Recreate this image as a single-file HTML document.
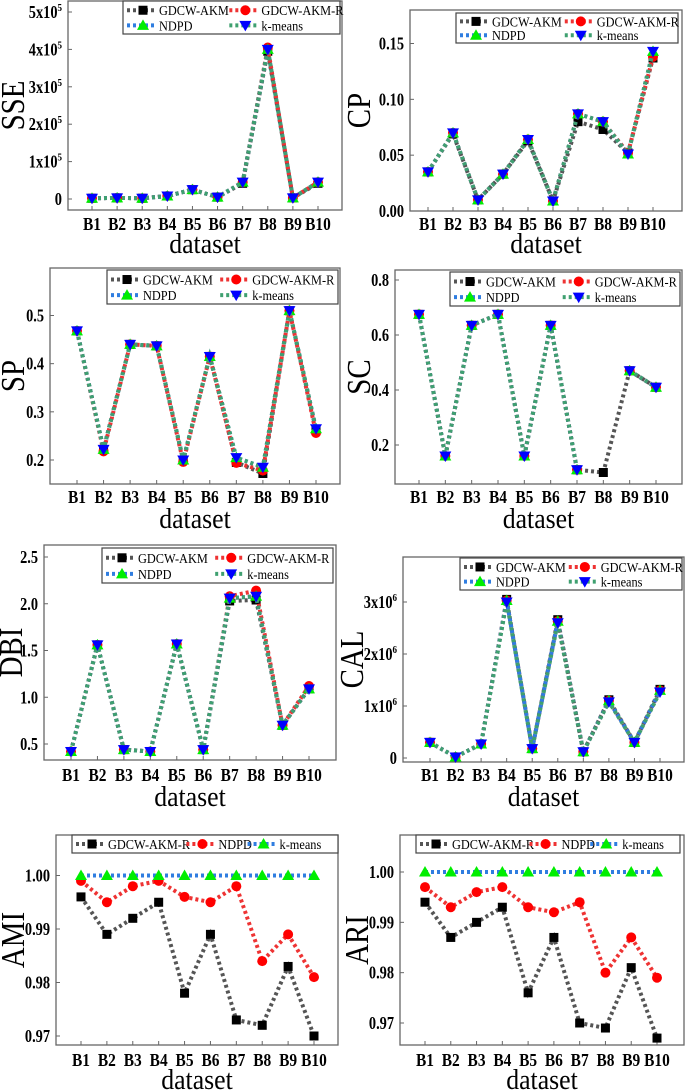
<!DOCTYPE html>
<html><head><meta charset="utf-8">
<style>
html,body{margin:0;padding:0;background:#fff;}
svg{display:block;font-family:"Liberation Serif",serif;}
</style></head>
<body>
<svg id="fig" width="685" height="1091" viewBox="0 0 685 1091" xmlns="http://www.w3.org/2000/svg"></svg>
<script>
const categories = ["B1","B2","B3","B4","B5","B6","B7","B8","B9","B10"];
// SSE (x10^5)
const sseAkm   = [0.02,0.03,0.02,0.08,0.25,0.05,0.42,3.95,0.03,0.42];
const sseAkmR  = [0.02,0.03,0.02,0.08,0.25,0.05,0.45,4.05,0.03,0.45];
const sseNdpd  = [0.02,0.03,0.02,0.08,0.25,0.05,0.45,4.0,0.03,0.45];
const sseKm    = [0.02,0.03,0.02,0.08,0.25,0.05,0.45,4.0,0.03,0.45];
// CP
const cpAkm  = [0.035,0.069,0.010,0.033,0.063,0.009,0.080,0.073,0.052,0.137];
const cpAkmR = [0.035,0.070,0.010,0.033,0.064,0.009,0.087,0.080,0.052,0.138];
const cpNdpd = [0.035,0.070,0.010,0.033,0.064,0.009,0.087,0.080,0.051,0.143];
const cpKm   = [0.035,0.070,0.010,0.033,0.064,0.009,0.087,0.080,0.051,0.143];
// SP
const spAkm  = [0.468,0.222,0.440,0.437,0.200,0.415,0.195,0.172,0.510,0.262];
const spAkmR = [0.468,0.218,0.440,0.437,0.196,0.415,0.194,0.178,0.510,0.256];
const spNdpd = [0.468,0.222,0.440,0.437,0.200,0.415,0.205,0.185,0.510,0.265];
const spKm   = [0.468,0.222,0.440,0.437,0.200,0.415,0.205,0.185,0.510,0.265];
// SC
const scAkm  = [0.675,0.160,0.635,0.675,0.160,0.635,0.110,0.100,0.470,0.410];
const scAkmR = [0.675,0.160,0.635,0.675,0.160,0.635,0.110,null,0.470,0.410];
const scNdpd = [0.675,0.160,0.635,0.675,0.160,0.635,0.110,null,0.470,0.410];
const scKm   = [0.675,0.160,0.635,0.675,0.160,0.635,0.110,null,0.470,0.410];
// DBI
const dbiAkm  = [0.42,1.56,0.44,0.42,1.57,0.44,2.03,2.04,0.70,1.09];
const dbiAkmR = [0.42,1.56,0.44,0.42,1.57,0.44,2.08,2.14,0.70,1.12];
const dbiNdpd = [0.42,1.56,0.44,0.42,1.57,0.44,2.06,2.08,0.70,1.09];
const dbiKm   = [0.42,1.56,0.44,0.42,1.57,0.44,2.06,2.08,0.70,1.09];
// CAL (x10^6)
const calAkm  = [0.30,0.02,0.27,3.05,0.18,2.66,0.12,1.12,0.30,1.32];
const calAkmR = [0.30,0.02,0.27,3.03,0.18,2.63,0.12,1.10,0.30,1.30];
const calNdpd = [0.30,0.02,0.27,3.03,0.18,2.63,0.12,1.10,0.30,1.30];
const calKm   = [0.30,0.02,0.27,3.00,0.18,2.60,0.12,1.08,0.30,1.27];
// AMI
const amiAkmR = [0.996,0.989,0.992,0.995,0.978,0.989,0.973,0.972,0.983,0.970];
const amiNdpd = [0.999,0.995,0.998,0.999,0.996,0.995,0.998,0.984,0.989,0.981];
const amiKm   = [1,1,1,1,1,1,1,1,1,1];
// ARI
const ariAkmR = [0.994,0.987,0.990,0.993,0.976,0.987,0.970,0.969,0.981,0.967];
const ariNdpd = [0.997,0.993,0.996,0.997,0.993,0.992,0.994,0.980,0.987,0.979];
const ariKm   = [1,1,1,1,1,1,1,1,1,1];
// tick values
const sseTicks = [0,1,2,3,4,5];
const cpTicks = [0,0.05,0.10,0.15];
const spTicks = [0.2,0.3,0.4,0.5];
const scTicks = [0.2,0.4,0.6,0.8];
const dbiTicks = [0.5,1.0,1.5,2.0,2.5];
const calTicks = [0,1,2,3];
const amiTicks = [0.97,0.98,0.99,1.00];
const ariTicks = [0.97,0.98,0.99,1.00];

const NS="http://www.w3.org/2000/svg";
const svg=document.getElementById('fig');
function mk(tag,attrs,parent){const e=document.createElementNS(NS,tag);for(const k in attrs)e.setAttribute(k,attrs[k]);(parent||svg).appendChild(e);return e;}
function squeeze(el,f){try{const L=el.getComputedTextLength();if(L>0){el.setAttribute('textLength',(L*f).toFixed(1));el.setAttribute('lengthAdjust','spacingAndGlyphs');}}catch(e){}}

const ST={
 akm:{line:"#555555",fill:"#000000",m:"square",label:"GDCW-AKM"},
 akmR:{line:"#ee3333",fill:"#ff0000",m:"circle",label:"GDCW-AKM-R"},
 ndpd:{line:"#2f7de0",fill:"#00ee00",m:"tri",label:"NDPD"},
 km:{line:"#3fa070",fill:"#0000ff",m:"itri",label:"k-means"},
 b_akmR:{line:"#555555",fill:"#000000",m:"square",label:"GDCW-AKM-R"},
 b_ndpd:{line:"#ee3333",fill:"#ff0000",m:"circle",label:"NDPD"},
 b_km:{line:"#2f7de0",fill:"#00ee00",m:"tri",label:"k-means"}
};

function marker(g,type,x,y,fill,name){
 let e;
 if(type==="square") e=mk('rect',{x:x-4.5,y:y-4.5,width:9,height:9,fill:fill},g);
 else if(type==="circle") e=mk('circle',{cx:x,cy:y,r:5,fill:fill},g);
 else if(type==="tri") e=mk('polygon',{points:`${x},${y-6} ${x-6},${y+4.5} ${x+6},${y+4.5}`,fill:fill},g);
 else e=mk('polygon',{points:`${x},${y+6} ${x-6},${y-4.5} ${x+6},${y-4.5}`,fill:fill},g);
 
 
 return e;
}

function panel(cfg){
 const g=mk('g',{});
 
 
 const f=cfg.frame;
 const yS=v=>cfg.y0p+(v-cfg.y0v)*(cfg.y1p-cfg.y0p)/(cfg.y1v-cfg.y0v);
 const xS=i=>cfg.xb1+i*(cfg.xb10-cfg.xb1)/(categories.length-1);
 const fr=mk('rect',{x:f[0],y:f[1],width:f[2]-f[0],height:f[3]-f[1],fill:"none",stroke:"#666",'stroke-width':1.3},g);
 
 
 cfg.ticks.forEach(t=>{
  const y=yS(t);
  mk('line',{x1:f[0],x2:f[0]+4,y1:y,y2:y,stroke:"#666",'stroke-width':1},g);
  const tx=mk('text',{x:f[0]-6,y:y+6,'text-anchor':'end','font-size':17.5,'font-weight':'bold',fill:'#000'},g);
  
  
  if(cfg.sci){
   if(t===0){tx.textContent='0';}
   else{tx.textContent=t+'x10';const s=mk('tspan',{dy:-7,'font-size':11},tx);s.textContent=cfg.sci;}
  } else {tx.textContent=t.toFixed(cfg.dec);}
  squeeze(tx,0.82);
 });
 categories.forEach((c,i)=>{
  const x=xS(i);
  mk('line',{x1:x,x2:x,y1:f[3],y2:f[3]-4,stroke:"#666",'stroke-width':1},g);
  const tx=mk('text',{x:x,y:cfg.xlabY,'text-anchor':'middle','font-size':17.5,'font-weight':'bold',fill:'#000'},g);
  tx.textContent=c;
  
  
  squeeze(tx,0.88);
 });
 const xt=mk('text',{x:(f[0]+f[2])/2,y:cfg.xtitleY,'text-anchor':'middle','font-size':28,fill:'#000'},g);
 xt.textContent='dataset';
 
 
 squeeze(xt,0.92);
 const yc=(f[1]+f[3])/2;
 const yt=mk('text',{x:cfg.ytx,y:yc,'text-anchor':'middle','font-size':34,fill:'#000',transform:`rotate(-90 ${cfg.ytx} ${yc})`,'dominant-baseline':'middle'},g);
 yt.textContent=cfg.title;
 
 
 squeeze(yt,0.85);
 cfg.series.forEach(s=>{
  const st=ST[s.key];
  const sg=mk('g',{},g);
  
  
  let seg=[];const segs=[];
  s.vals.forEach((v,i)=>{if(v===null){if(seg.length)segs.push(seg);seg=[];}else seg.push([xS(i),yS(v)]);});
  if(seg.length)segs.push(seg);
  segs.forEach(sq=>{
   const p=mk('polyline',{points:sq.map(q=>q.join(',')).join(' '),fill:'none',stroke:st.line,'stroke-width':4,'stroke-dasharray':'3,3'},sg);
   
   
  });
  s.vals.forEach((v,i)=>{if(v!==null)marker(sg,st.m,xS(i),yS(v),st.fill,cfg.name+'-point');});
 });
 const L=cfg.legend;
 const lg=mk('g',{},g);
 
 
 mk('rect',{x:L[0],y:L[1],width:L[2]-L[0],height:L[3]-L[1],fill:'#fff',stroke:'#444','stroke-width':1.2},lg);
 const n=cfg.series.length;
 const pos=[];
 const w=L[2]-L[0],h=L[3]-L[1];
 if(n===4){
  pos.push([L[0]+4,L[1]+h*0.28],[L[0]+w*0.49,L[1]+h*0.28],[L[0]+4,L[1]+h*0.74],[L[0]+w*0.49,L[1]+h*0.74]);
 } else {
  pos.push([L[0]+4,L[1]+h/2],[L[0]+w*0.43,L[1]+h/2],[L[0]+w*0.66,L[1]+h/2]);
 }
 cfg.series.forEach((s,k)=>{
  const st=ST[s.key];const [x,y]=pos[k];
  const eg=mk('g',{},lg);
  
  
  mk('line',{x1:x,x2:x+30,y1:y,y2:y,stroke:st.line,'stroke-width':4,'stroke-dasharray':'3,3'},eg);
  marker(eg,st.m,x+16,y,st.fill,'legend-marker');
  const t=mk('text',{x:x+32,y:y+5,'font-size':14,fill:'#000'},eg);
  t.textContent=st.label;
  squeeze(t,0.88);
 });
}

const four=(a,b,c,d)=>[{key:'akm',vals:a},{key:'akmR',vals:b},{key:'ndpd',vals:c},{key:'km',vals:d}];
const three=(a,b,c)=>[{key:'b_akmR',vals:a},{key:'b_ndpd',vals:b},{key:'b_km',vals:c}];

panel({name:'sse',title:'SSE',frame:[68,1,342,210],ticks:sseTicks,sci:'5',y0v:0,y0p:199,y1v:5,y1p:12,xb1:92,xb10:318,xlabY:230,xtitleY:253,ytx:16,legend:[123,1,340,34],series:four(sseAkm,sseAkmR,sseNdpd,sseKm)});
panel({name:'cp',title:'CP',frame:[410,10,682,211],ticks:cpTicks,dec:2,y0v:0,y0p:211,y1v:0.15,y1p:43.5,xb1:428,xb10:653,xlabY:230,xtitleY:253,ytx:362,legend:[456,13,678,43],series:four(cpAkm,cpAkmR,cpNdpd,cpKm)});
panel({name:'sp',title:'SP',frame:[50,268,340,484],ticks:spTicks,dec:1,y0v:0.2,y0p:460,y1v:0.5,y1p:315.5,xb1:77,xb10:316,xlabY:503,xtitleY:528,ytx:16,legend:[107,270,338,304],series:four(spAkm,spAkmR,spNdpd,spKm)});
panel({name:'sc',title:'SC',frame:[395,270,682,484],ticks:scTicks,dec:1,y0v:0.2,y0p:445,y1v:0.8,y1p:280,xb1:419,xb10:656,xlabY:503,xtitleY:528,ytx:362,legend:[450,272,680,306],series:four(scAkm,scAkmR,scNdpd,scKm)});
panel({name:'dbi',title:'DBI',frame:[44,545,336,760],ticks:dbiTicks,dec:1,y0v:0.5,y0p:744,y1v:2.5,y1p:557,xb1:71,xb10:309,xlabY:781,xtitleY:806,ytx:14,legend:[102,548,333,583],series:four(dbiAkm,dbiAkmR,dbiNdpd,dbiKm)});
panel({name:'cal',title:'CAL',frame:[403,557,684,762],ticks:calTicks,sci:'6',y0v:0,y0p:758,y1v:3,y1p:602,xb1:430,xb10:660,xlabY:781,xtitleY:806,ytx:355,legend:[460,558,682,590],series:four(calAkm,calAkmR,calNdpd,calKm)});
panel({name:'ami',title:'AMI',frame:[56,835,338,1045],ticks:amiTicks,dec:2,y0v:0.97,y0p:1036,y1v:1.0,y1p:875.5,xb1:81,xb10:314,xlabY:1066,xtitleY:1089,ytx:16,legend:[72,835,338,853],series:three(amiAkmR,amiNdpd,amiKm)});
panel({name:'ari',title:'ARI',frame:[400,835,684,1045],ticks:ariTicks,dec:2,y0v:0.97,y0p:1023,y1v:1.0,y1p:872,xb1:425,xb10:657,xlabY:1066,xtitleY:1089,ytx:360,legend:[416,835,680,853],series:three(ariAkmR,ariNdpd,ariKm)});
</script>
</body></html>
